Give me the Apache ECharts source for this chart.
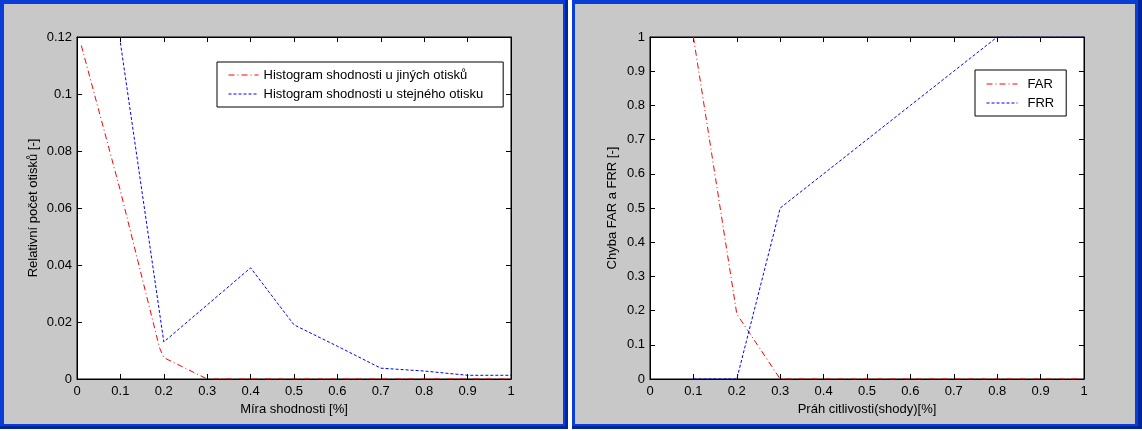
<!DOCTYPE html>
<html><head><meta charset="utf-8">
<script src="https://cdn.jsdelivr.net/npm/echarts@6/dist/echarts.min.js"></script>
<style>html,body{margin:0;padding:0;background:#fff}#c{width:1142px;height:431px}</style>
</head><body><div id="c"></div><script>
// ---- data ----
const otherX = [0.01, 0.1, 0.19, 0.2, 0.3, 0.4, 0.5, 0.6, 0.7, 0.8, 0.9, 1.0];
const otherY = [0.117, 0.066, 0.011, 0.0075, 0, 0, 0, 0, 0, 0, 0, 0];
const sameX = [0.1, 0.2, 0.3, 0.4, 0.5, 0.6, 0.7, 0.8, 0.9, 1.0];
const sameY = [0.118, 0.013, 0.026, 0.039, 0.019, 0.0115, 0.0038, 0.0028, 0.0013, 0.0013];
const thrX = [0.1, 0.2, 0.3, 0.4, 0.5, 0.6, 0.7, 0.8, 0.9, 1.0];
const farY = [1, 0.19, 0, 0, 0, 0, 0, 0, 0, 0];
const frrY = [0, 0, 0.5, 0.6, 0.7, 0.8, 0.9, 1, 1, 1];
const seriesNames = ['Histogram shodnosti u jiných otisků', 'Histogram shodnosti u stejného otisku', 'FAR', 'FRR'];
const axisTitles = ['Míra shodnosti [%]', 'Relativní počet otisků [-]', 'Práh citlivosti(shody)[%]', 'Chyba FAR a FRR [-]'];

const FONT = "'Liberation Sans', Arial, sans-serif";
const pairs = (xs, ys) => xs.map((x, i) => [x, ys[i]]);
const fmt = v => String(+v.toFixed(2));

function xAx(grid, pos, name) {
  return {
    type: 'value', gridIndex: grid, position: pos, min: 0, max: 1, interval: 0.1,
    axisLine: {show: true, onZero: false, lineStyle: {color: '#000', width: 1}},
    axisTick: {show: true, inside: true, length: 5, lineStyle: {color: '#000'}},
    axisLabel: {show: pos === 'bottom', color: '#000', fontFamily: FONT, fontSize: 13, margin: 6, formatter: fmt},
    splitLine: {show: false},
    name: name || '', nameLocation: 'middle', nameGap: 24,
    nameTextStyle: {color: '#000', fontFamily: FONT, fontSize: 13}
  };
}
function yAx(grid, pos, max, interval, name, gap) {
  return {
    type: 'value', gridIndex: grid, position: pos, min: 0, max: max, interval: interval,
    axisLine: {show: true, onZero: false, lineStyle: {color: '#000', width: 1}},
    axisTick: {show: true, inside: true, length: 5, lineStyle: {color: '#000'}},
    axisLabel: {show: pos === 'left', color: '#000', fontFamily: FONT, fontSize: 13, margin: 5, formatter: fmt},
    splitLine: {show: false},
    name: name || '', nameLocation: 'middle', nameGap: gap || 0, nameRotate: 90,
    nameTextStyle: {color: '#000', fontFamily: FONT, fontSize: 13}
  };
}
const redStyle = {color: '#ff0000', width: 1, type: [6, 3, 1, 3]};
const blueStyle = {color: '#0000ff', width: 1, type: [3, 2]};

const chart = echarts.init(document.getElementById('c'), null, {renderer: 'canvas'});
chart.setOption({
  animation: false,
  backgroundColor: '#ffffff',
  graphic: [
    {type: 'rect', z: -100, shape: {x: 0, y: 0, width: 568, height: 429}, style: {fill: '#0a3cd8'}},
    {type: 'rect', z: -99, shape: {x: 0, y: 426, width: 568, height: 3}, style: {fill: '#00259a'}},
    {type: 'rect', z: -99, shape: {x: 565, y: 0, width: 3, height: 429}, style: {fill: '#00259a'}},
    {type: 'rect', z: -98, shape: {x: 4, y: 4, width: 559, height: 420}, style: {fill: '#c8c8c8'}},
    {type: 'rect', z: -100, shape: {x: 572, y: 0, width: 570, height: 429}, style: {fill: '#0a3cd8'}},
    {type: 'rect', z: -99, shape: {x: 572, y: 426, width: 570, height: 3}, style: {fill: '#00259a'}},
    {type: 'rect', z: -99, shape: {x: 1138, y: 0, width: 4, height: 429}, style: {fill: '#00259a'}},
    {type: 'rect', z: -98, shape: {x: 575, y: 4, width: 560, height: 420}, style: {fill: '#c8c8c8'}}
  ],
  grid: [
    {left: 77, top: 37, width: 434, height: 342, show: true, backgroundColor: '#fff', borderColor: '#000', borderWidth: 1},
    {left: 650, top: 37, width: 434, height: 342, show: true, backgroundColor: '#fff', borderColor: '#000', borderWidth: 1}
  ],
  xAxis: [
    xAx(0, 'bottom', axisTitles[0]), xAx(0, 'top'),
    xAx(1, 'bottom', axisTitles[2]), xAx(1, 'top')
  ],
  yAxis: [
    yAx(0, 'left', 0.12, 0.02, axisTitles[1], 37), yAx(0, 'right', 0.12, 0.02),
    yAx(1, 'left', 1, 0.1, axisTitles[3], 31), yAx(1, 'right', 1, 0.1)
  ],
  legend: [
    {
      data: [seriesNames[0], seriesNames[1]], orient: 'vertical', left: 217, top: 62,
      backgroundColor: '#fff', borderColor: '#000', borderWidth: 1, borderRadius: 0,
      padding: [6, 20, 6, 11], itemWidth: 30, itemHeight: 14, itemGap: 5,
      itemStyle: {opacity: 0, borderWidth: 0}, lineStyle: {width: 1},
      textStyle: {color: '#000', fontFamily: FONT, fontSize: 13, lineHeight: 14}
    },
    {
      data: [seriesNames[2], seriesNames[3]], orient: 'vertical', left: 975, top: 70,
      backgroundColor: '#fff', borderColor: '#000', borderWidth: 1, borderRadius: 0,
      padding: [7, 12, 6, 11], itemWidth: 31, itemHeight: 14, itemGap: 5,
      itemStyle: {opacity: 0, borderWidth: 0}, lineStyle: {width: 1},
      textStyle: {color: '#000', fontFamily: FONT, fontSize: 13, lineHeight: 14, padding: [0, 0, 0, 5]}
    }
  ],
  series: [
    {name: seriesNames[0], type: 'line', xAxisIndex: 0, yAxisIndex: 0, data: pairs(otherX, otherY),
     symbol: 'none', lineStyle: redStyle, itemStyle: {color: '#ff0000'}, clip: true},
    {name: seriesNames[1], type: 'line', xAxisIndex: 0, yAxisIndex: 0, data: pairs(sameX, sameY),
     symbol: 'none', lineStyle: blueStyle, itemStyle: {color: '#0000ff'}, clip: true},
    {name: seriesNames[2], type: 'line', xAxisIndex: 2, yAxisIndex: 2, data: pairs(thrX, farY),
     symbol: 'none', lineStyle: redStyle, itemStyle: {color: '#ff0000'}, clip: true},
    {name: seriesNames[3], type: 'line', xAxisIndex: 2, yAxisIndex: 2, data: pairs(thrX, frrY),
     symbol: 'none', lineStyle: blueStyle, itemStyle: {color: '#0000ff'}, clip: true}
  ]
});
</script></body></html>
